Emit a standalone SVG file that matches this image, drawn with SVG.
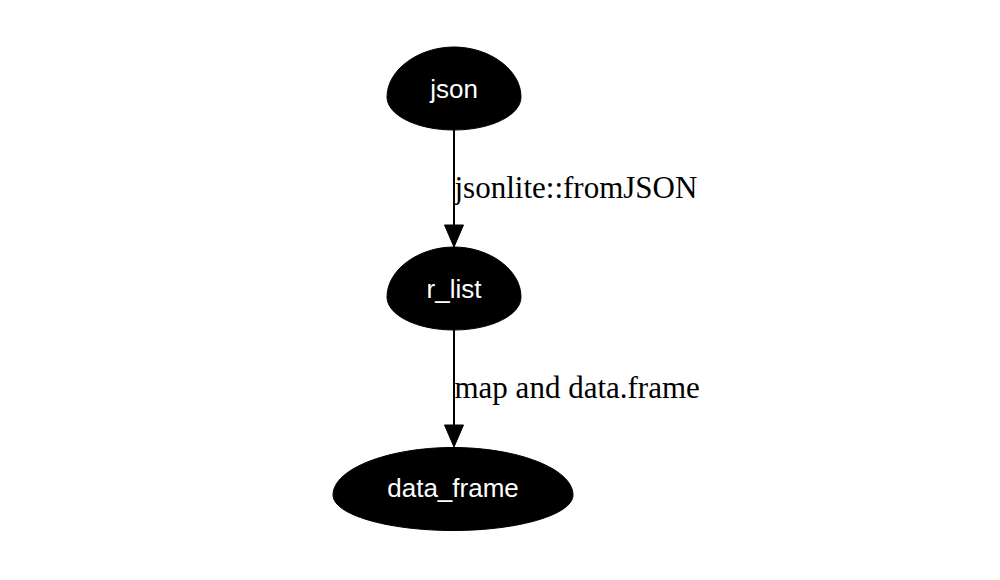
<svg xmlns="http://www.w3.org/2000/svg" width="1000" height="580" viewBox="0 0 1000 580">
<style>
.node{fill:#000;stroke:#000;stroke-width:1}
.ntext{font-family:"Liberation Sans",Arial,sans-serif;font-size:26px;fill:#fff;text-anchor:middle}
.edge{stroke:#000;stroke-width:2;fill:none}
.etext{font-family:"Liberation Serif","Times New Roman",serif;font-size:31px;fill:#000}
.arrow{fill:#000;stroke:#000;stroke-width:1}
</style>
<rect width="1000" height="580" fill="#fff"/>
<g id="edges">
  <g id="edge_json_r_list">
    <line class="edge" x1="454" y1="130" x2="454" y2="226"/>
    <polygon class="arrow" points="444.5,225 463.5,225 454,247"/>
    <text class="etext" x="454.5" y="197.5">jsonlite::fromJSON</text>
  </g>
  <g id="edge_r_list_data_frame">
    <line class="edge" x1="454" y1="330" x2="454" y2="426"/>
    <polygon class="arrow" points="444.5,425 463.5,425 454,447"/>
    <text class="etext" x="454.5" y="397.5">map and data.frame</text>
  </g>
</g>
<g id="node_json">
  <path class="node" d="M454,47 C489,47 521,69.4 521,97 C521,115.2 491,130 454,130 C417,130 387,115.2 387,97 C387,69.4 419,47 454,47 Z"/>
  <text class="ntext" x="454" y="97.7">json</text>
</g>
<g id="node_r_list">
  <path class="node" d="M454,247 C489,247 521,269.4 521,297 C521,315.2 491,330 454,330 C417,330 387,315.2 387,297 C387,269.4 419,247 454,247 Z"/>
  <text class="ntext" x="454" y="297.7">r_list</text>
</g>
<g id="node_data_frame">
  <path class="node" d="M453,447.5 C517,447.5 573,468.6 573,495 C573,514.5 519,530.5 453,530.5 C387,530.5 333,514.5 333,495 C333,468.6 389,447.5 453,447.5 Z"/>
  <text class="ntext" x="453" y="497.3">data_frame</text>
</g>
</svg>
